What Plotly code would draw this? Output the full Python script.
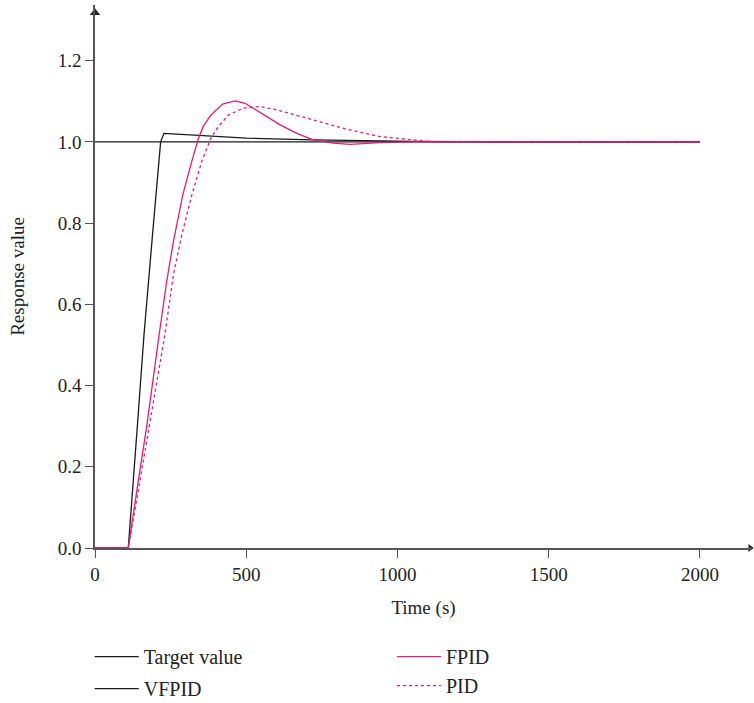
import plotly.graph_objects as go

# ---- data ----
target_t = [0, 2000]
target_y = [1.0, 1.0]

vfpid_t = [0, 110, 140, 162, 190, 210, 217, 228, 336, 501, 722, 1052, 1300, 2000]
vfpid_y = [0, 0, 0.30, 0.525, 0.77, 0.94, 1.0, 1.021, 1.016, 1.009, 1.005, 1.001, 1.0, 1.0]

fpid_t = [0, 110, 140, 171, 212, 237, 259, 290, 320, 342, 358, 382, 422, 463, 496,
          550, 612, 667, 722, 787, 843, 942, 1052, 1200, 2000]
fpid_y = [0, 0, 0.15, 0.30, 0.525, 0.656, 0.754, 0.869, 0.952, 1.009, 1.038, 1.065,
          1.093, 1.101, 1.095, 1.07, 1.042, 1.021, 1.005, 0.997, 0.994, 0.998, 1.0,
          1.0, 1.0]

pid_t = [0, 110, 145, 180, 231, 259, 287, 320, 353, 383, 408, 441, 490, 545, 600,
         722, 832, 942, 1052, 1120, 2000]
pid_y = [0, 0, 0.15, 0.30, 0.525, 0.672, 0.771, 0.869, 0.952, 1.009, 1.038, 1.066,
         1.083, 1.087, 1.079, 1.054, 1.031, 1.013, 1.005, 1.0, 1.0]

x_ticks = [0, 500, 1000, 1500, 2000]
y_ticks = [0.0, 0.2, 0.4, 0.6, 0.8, 1.0, 1.2]

BLACK = "#1a1a1a"
PINK = "#E8197C"
AXIS = "#555555"
FONT = "Liberation Serif"

fig = go.Figure()
fig.add_trace(go.Scatter(x=target_t, y=target_y, mode="lines", name="Target value",
                         line=dict(color=BLACK, width=1.3), legend="legend",
                         legendgroup="a"))
fig.add_trace(go.Scatter(x=vfpid_t, y=vfpid_y, mode="lines", name="VFPID",
                         line=dict(color=BLACK, width=1.3), legend="legend",
                         legendgroup="b"))
fig.add_trace(go.Scatter(x=fpid_t, y=fpid_y, mode="lines", name="FPID",
                         line=dict(color=PINK, width=1.3),
                         legend="legend2", legendgroup="c"))
fig.add_trace(go.Scatter(x=pid_t, y=pid_y, mode="lines", name="PID",
                         line=dict(color=PINK, width=1.3, dash="dot"),
                         legend="legend2", legendgroup="d"))

# axis arrowheads
fig.add_trace(go.Scatter(x=[0], y=[1.318], mode="markers", showlegend=False,
                         marker=dict(symbol="triangle-up", size=9, color="#222"),
                         cliponaxis=False, hoverinfo="skip"))
fig.add_trace(go.Scatter(x=[2166], y=[0], mode="markers", showlegend=False,
                         marker=dict(symbol="triangle-right", size=7, color="#222"),
                         cliponaxis=False, hoverinfo="skip"))

fig.update_layout(
    width=754, height=703,
    margin=dict(l=95, r=2, t=5, b=155, autoexpand=False),
    plot_bgcolor="white", paper_bgcolor="white",
    font=dict(family=FONT, size=19, color="#222"),
    xaxis=dict(range=[0, 2172], tickvals=x_ticks, showgrid=False, zeroline=False,
               showline=True, linecolor=AXIS, linewidth=1.5, ticks="outside",
               ticklen=8, tickcolor=AXIS, tickwidth=1.2, automargin=False,
               tickfont=dict(size=19),
               title=dict(text="Time (s)", standoff=17, font=dict(size=19))),
    yaxis=dict(range=[0, 1.337], tickvals=y_ticks, tickformat=".1f", showgrid=False,
               zeroline=False, showline=True, linecolor=AXIS, linewidth=1.5,
               ticks="outside", ticklen=8, tickcolor=AXIS, tickwidth=1.2,
               automargin=False, tickfont=dict(size=19),
               title=dict(text="Response value", standoff=28, font=dict(size=19))),
    legend=dict(x=-0.008, y=-0.164, xanchor="left", yanchor="top",
                orientation="v", traceorder="grouped", tracegroupgap=3,
                bgcolor="rgba(0,0,0,0)", font=dict(size=20), itemwidth=44),
    legend2=dict(x=0.452, y=-0.164, xanchor="left", yanchor="top",
                 orientation="v", traceorder="grouped", tracegroupgap=0,
                 bgcolor="rgba(0,0,0,0)", font=dict(size=20), itemwidth=44),
)

fig.write_html("out.html", config={"displayModeBar": False},
               post_script="document.body.style.margin='0';")
